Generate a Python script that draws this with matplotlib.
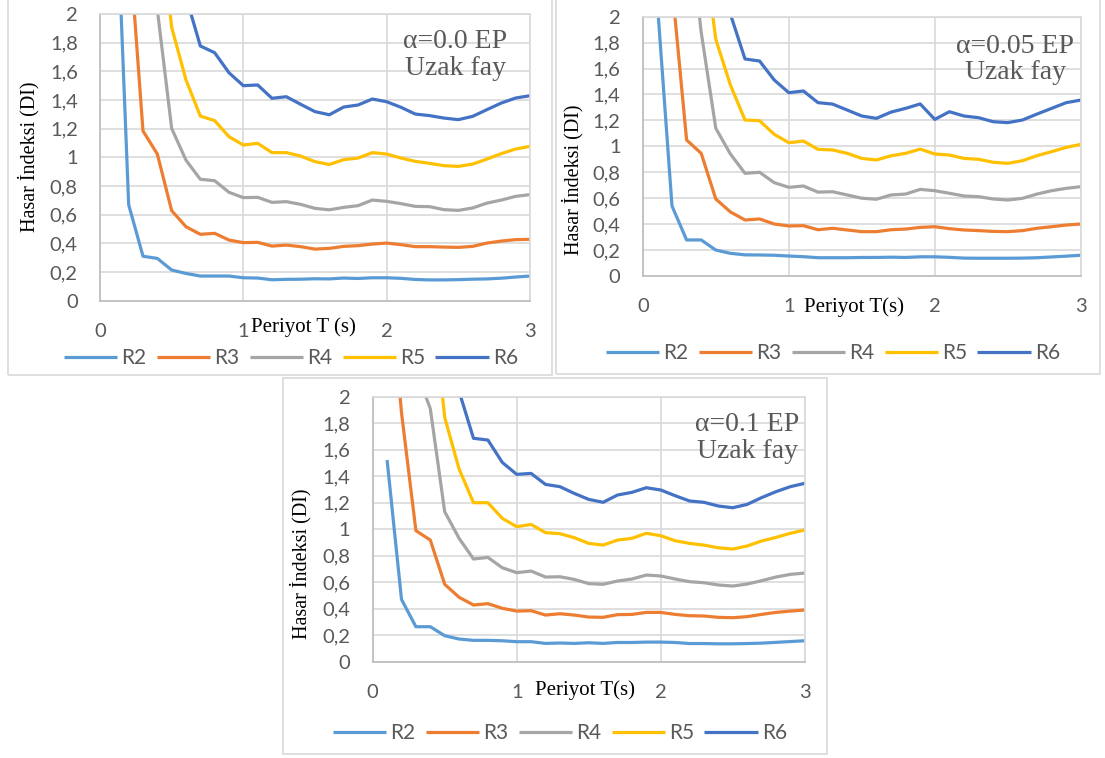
import matplotlib
matplotlib.use("Agg")
import matplotlib.pyplot as plt
from matplotlib.patches import Rectangle

# Period values (s)
T = [0.1, 0.2, 0.3, 0.4, 0.5, 0.6, 0.7, 0.8, 0.9, 1.0,
     1.1, 1.2, 1.3, 1.4, 1.5, 1.6, 1.7, 1.8, 1.9, 2.0,
     2.1, 2.2, 2.3, 2.4, 2.5, 2.6, 2.7, 2.8, 2.9, 3.0]

series_names = ["R2", "R3", "R4", "R5", "R6"]
series_colors = ["#5B9BD5", "#ED7D31", "#A5A5A5", "#FFC000", "#4472C4"]

# alpha = 0.0 EP, far fault
a00_R2 = [3.2, 0.67, 0.31, 0.295, 0.214, 0.19, 0.172, 0.172, 0.172, 0.16,
          0.158, 0.146, 0.149, 0.15, 0.153, 0.152, 0.158, 0.155, 0.16, 0.16,
          0.156, 0.148, 0.145, 0.145, 0.147, 0.15, 0.152, 0.157, 0.165, 0.172]
a00_R3 = [6.0, 2.55, 1.184, 1.023, 0.628, 0.516, 0.463, 0.47, 0.423, 0.405,
          0.407, 0.381, 0.388, 0.377, 0.36, 0.365, 0.379, 0.384, 0.395, 0.402,
          0.391, 0.377, 0.377, 0.374, 0.372, 0.379, 0.402, 0.416, 0.426, 0.428]
a00_R4 = [8.0, 5.5, 3.5, 2.03, 1.202, 0.98, 0.847, 0.837, 0.756, 0.719,
          0.721, 0.686, 0.691, 0.672, 0.644, 0.634, 0.651, 0.663, 0.702, 0.693,
          0.677, 0.658, 0.656, 0.635, 0.63, 0.647, 0.681, 0.702, 0.728, 0.74]
a00_R5 = [10.0, 7.0, 4.5, 2.8, 1.907, 1.54, 1.288, 1.256, 1.144, 1.086,
          1.098, 1.033, 1.033, 1.009, 0.97, 0.95, 0.984, 0.995, 1.033, 1.023,
          0.995, 0.972, 0.958, 0.942, 0.937, 0.953, 0.988, 1.026, 1.058, 1.077]
a00_R6 = [12.0, 9.0, 6.0, 4.0, 2.6, 2.12, 1.777, 1.73, 1.59, 1.5,
          1.505, 1.412, 1.423, 1.37, 1.319, 1.297, 1.351, 1.365, 1.407, 1.388,
          1.349, 1.302, 1.291, 1.274, 1.263, 1.286, 1.333, 1.379, 1.414, 1.43]

# alpha = 0.05 EP, far fault
a05_R2 = [2.1, 0.54, 0.278, 0.278, 0.2, 0.175, 0.163, 0.162, 0.16, 0.154,
          0.149, 0.141, 0.141, 0.141, 0.143, 0.143, 0.145, 0.143, 0.148, 0.148,
          0.144, 0.138, 0.137, 0.137, 0.137, 0.138, 0.141, 0.147, 0.153, 0.16]
a05_R3 = [4.5, 2.24, 1.049, 0.946, 0.594, 0.494, 0.432, 0.44, 0.401, 0.386,
          0.388, 0.357, 0.368, 0.355, 0.342, 0.342, 0.357, 0.362, 0.375, 0.38,
          0.365, 0.355, 0.35, 0.344, 0.342, 0.35, 0.368, 0.38, 0.393, 0.401]
a05_R4 = [7.0, 4.5, 2.9, 1.88, 1.139, 0.941, 0.792, 0.8, 0.72, 0.684,
          0.694, 0.647, 0.65, 0.625, 0.6, 0.592, 0.625, 0.632, 0.668, 0.658,
          0.638, 0.617, 0.612, 0.594, 0.586, 0.599, 0.632, 0.658, 0.676, 0.689]
a05_R5 = [9.0, 6.0, 4.0, 2.7, 1.825, 1.473, 1.203, 1.198, 1.093, 1.028,
          1.041, 0.977, 0.972, 0.946, 0.907, 0.895, 0.927, 0.946, 0.979, 0.941,
          0.933, 0.907, 0.9, 0.877, 0.869, 0.889, 0.928, 0.959, 0.992, 1.015]
a05_R6 = [11.0, 8.0, 5.5, 3.5, 2.5, 2.02, 1.674, 1.658, 1.512, 1.414,
          1.427, 1.337, 1.326, 1.28, 1.234, 1.216, 1.264, 1.293, 1.327, 1.208,
          1.267, 1.234, 1.221, 1.19, 1.183, 1.203, 1.249, 1.293, 1.337, 1.357]

# alpha = 0.1 EP, far fault
a10_R2 = [1.522, 0.47, 0.264, 0.264, 0.196, 0.171, 0.161, 0.161, 0.158, 0.151,
          0.151, 0.138, 0.141, 0.138, 0.143, 0.138, 0.145, 0.145, 0.148, 0.148,
          0.145, 0.137, 0.137, 0.135, 0.135, 0.137, 0.14, 0.146, 0.152, 0.158]
a10_R3 = [3.1, 1.88, 0.989, 0.918, 0.584, 0.486, 0.428, 0.438, 0.403, 0.382,
          0.385, 0.352, 0.362, 0.352, 0.337, 0.335, 0.355, 0.357, 0.372, 0.372,
          0.357, 0.347, 0.345, 0.335, 0.332, 0.34, 0.357, 0.372, 0.382, 0.39]
a10_R4 = [5.0, 3.5, 2.2, 1.91, 1.132, 0.931, 0.775, 0.787, 0.709, 0.672,
          0.684, 0.639, 0.641, 0.621, 0.589, 0.584, 0.609, 0.624, 0.654, 0.647,
          0.624, 0.604, 0.596, 0.579, 0.571, 0.586, 0.611, 0.639, 0.659, 0.669]
a10_R5 = [8.0, 6.0, 4.0, 2.9, 1.844, 1.454, 1.2, 1.2, 1.082, 1.019,
          1.036, 0.974, 0.966, 0.936, 0.893, 0.88, 0.918, 0.931, 0.969, 0.951,
          0.913, 0.893, 0.88, 0.86, 0.85, 0.873, 0.911, 0.938, 0.969, 0.994]
a10_R6 = [11.0, 8.0, 5.5, 3.5, 2.5, 2.04, 1.686, 1.673, 1.504, 1.414,
          1.421, 1.338, 1.321, 1.27, 1.225, 1.203, 1.258, 1.278, 1.313, 1.296,
          1.253, 1.213, 1.203, 1.175, 1.162, 1.187, 1.238, 1.283, 1.321, 1.346]

y_ticks = [0, 0.2, 0.4, 0.6, 0.8, 1.0, 1.2, 1.4, 1.6, 1.8, 2.0]
y_tick_labels = ["0", "0,2", "0,4", "0,6", "0,8", "1", "1,2", "1,4", "1,6", "1,8", "2"]
x_ticks = [0, 1, 2, 3]

W, H = 1105, 758
fig = plt.figure(figsize=(W / 100, H / 100), dpi=100)
fig.patch.set_facecolor("white")

SANS = ["Lato", "DejaVu Sans"]
SERIF = ["Liberation Serif", "DejaVu Serif"]
GRID = "#d9d9d9"
TEXT_GREY = "#595959"


def fx(px):
    return px / W


def fy(py):
    return 1 - py / H


def panel(box, axes_px, series, note, note_xy, xlabel, xlabel_xy, ylabel_xy, legend_xy):
    # chart frame
    x0, y0, x1, y1 = box
    fig.add_artist(Rectangle((fx(x0), fy(y1)), fx(x1 - x0), (y1 - y0) / H,
                             transform=fig.transFigure, fill=False,
                             edgecolor=GRID, linewidth=1.2))
    left, top, right, bottom = axes_px
    ax = fig.add_axes([fx(left), fy(bottom), fx(right - left), (bottom - top) / H])
    for vals, name, col in zip(series, series_names, series_colors):
        ax.plot(T, vals, color=col, linewidth=2.3, label=name,
                solid_joinstyle="round", solid_capstyle="butt")
    ax.set_xlim(0, 3)
    ax.set_ylim(0, 2)
    ax.set_xticks(x_ticks)
    ax.set_xticklabels([str(v) for v in x_ticks], family=SANS, fontsize=14.5, color=TEXT_GREY)
    ax.set_yticks(y_ticks)
    ax.set_yticklabels(y_tick_labels, family=SANS, fontsize=14.5, color=TEXT_GREY)
    ax.tick_params(axis="both", length=0)
    ax.tick_params(axis="y", pad=16)
    ax.tick_params(axis="x", pad=16)
    ax.grid(True, color=GRID, linewidth=1.2)
    ax.set_axisbelow(True)
    for side in ["top", "right"]:
        ax.spines[side].set_color(GRID)
        ax.spines[side].set_linewidth(1.2)
    for side in ["left", "bottom"]:
        ax.spines[side].set_color("#bfbfbf")
        ax.spines[side].set_linewidth(1.3)
    ax.text(note_xy[0], note_xy[1], note, ha="center", va="center",
            family=SERIF, fontsize=20, color=TEXT_GREY, linespacing=1.1)
    fig.text(fx(xlabel_xy[0]), fy(xlabel_xy[1]), xlabel, ha="center", va="center",
             family=SERIF, fontsize=15, color="black")
    fig.text(fx(ylabel_xy[0]), fy(ylabel_xy[1]), "Hasar İndeksi (DI)", ha="center",
             va="center", rotation=90, family=SERIF, fontsize=14.5, color="black")
    handles, labels = ax.get_legend_handles_labels()
    fig.legend(handles, labels, loc="center", ncol=5,
               bbox_to_anchor=(fx(legend_xy[0]), fy(legend_xy[1])),
               frameon=False, prop={"family": SANS, "size": 15},
               labelcolor=TEXT_GREY, handlelength=2.55, handletextpad=0.2,
               columnspacing=0.5, borderpad=0)
    return ax


panel((8, -5, 552, 375), (100, 14, 530, 300.7),
      [a00_R2, a00_R3, a00_R4, a00_R5, a00_R6],
      "α=0.0 EP\nUzak fay", (2.48, 1.715),
      "Periyot T (s)", (303, 327), (29, 157), (291, 358))

panel((556, -5, 1100, 374), (642.8, 16.7, 1080.8, 276),
      [a05_R2, a05_R3, a05_R4, a05_R5, a05_R6],
      "α=0.05 EP\nUzak fay", (2.55, 1.67),
      "Periyot T(s)", (854, 307), (573, 180), (833, 353))

panel((283, 378, 827, 754), (372.7, 396.7, 804.7, 661.7),
      [a10_R2, a10_R3, a10_R4, a10_R5, a10_R6],
      "α=0.1 EP\nUzak fay", (2.6, 1.69),
      "Periyot T(s)", (585, 690), (301, 564), (560, 733))

fig.savefig("out.png", dpi=100, facecolor="white")
